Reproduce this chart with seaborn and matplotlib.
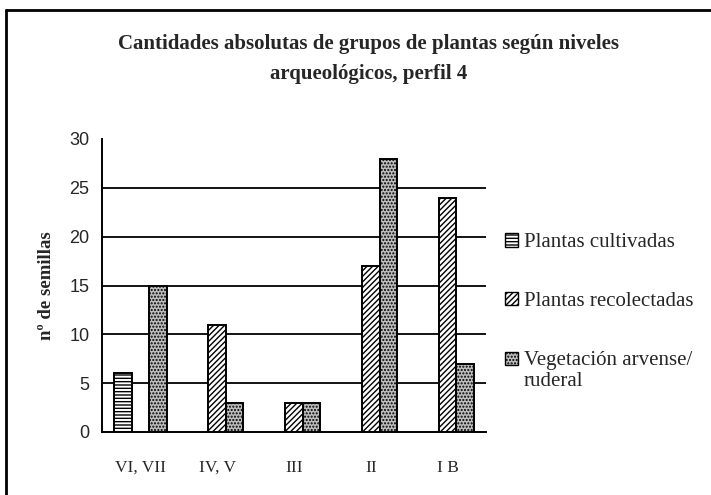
import matplotlib
matplotlib.use("Agg")
import matplotlib.pyplot as plt
import seaborn as sns
import pandas as pd
from matplotlib.lines import Line2D
from matplotlib.patches import Patch

categories = ["VI, VII", "IV, V", "III", "II", "I B"]
series = ["Plantas cultivadas", "Plantas recolectadas", "Vegetación arvense/\nruderal"]
cultivadas = [6, 0, 0, 0, 0]
recolectadas = [0, 11, 3, 17, 24]
vegetacion = [15, 3, 3, 28, 7]
yticks = [0, 5, 10, 15, 20, 25, 30]

rows = []
for name, vals in zip(series, [cultivadas, recolectadas, vegetacion]):
    for c, v in zip(categories, vals):
        rows.append({"nivel": c, "grupo": name, "n": v})
df = pd.DataFrame(rows)

sns.set_style("white")
plt.rcParams["hatch.linewidth"] = 1.0

fig = plt.figure(figsize=(7.11, 4.95), dpi=100)
ax = fig.add_axes([102/711, 1-432/495, (486-102)/711, (432-139)/495])

faces = ["white", "white", "#bdbdbd"]
hatches = ["-----", "//////", "....."]
palette = dict(zip(series, faces))
sns.barplot(data=df, x="nivel", y="n", hue="grupo", order=categories,
            hue_order=series, palette=palette, width=0.68, gap=0,
            edgecolor="black", linewidth=1.4, saturation=1, legend=False, ax=ax)
for cont, h in zip(ax.containers, hatches):
    for bar in cont:
        bar.set_hatch(h)
        if bar.get_height() == 0:
            bar.set_visible(False)

ax.set_ylim(0, 30)
ax.set_xlim(-0.5, len(categories)-0.5)
ax.set_yticks(yticks)
ax.set_yticklabels([str(t) for t in yticks], fontsize=13, family="Liberation Sans")
ax.set_xticks(range(len(categories)))
ax.set_xticklabels(categories, fontsize=12.5, family="Liberation Serif")
ax.set_xticks([i - 0.5 for i in range(len(categories)+1)], minor=True)
ax.tick_params(axis="x", which="major", length=0, pad=20)
ax.tick_params(axis="x", which="minor", length=5, width=1.3, direction="out", color="black")
ax.tick_params(axis="y", length=5, width=1.3, direction="out", color="black", pad=4)

ax.grid(axis="y", color="black", linewidth=1.3)
ax.set_axisbelow(True)
gl = ax.get_ygridlines()
gl[0].set_visible(False)
gl[-1].set_visible(False)

for s in ["top", "right"]:
    ax.spines[s].set_visible(False)
for s in ["left", "bottom"]:
    ax.spines[s].set_color("black")
    ax.spines[s].set_linewidth(1.4)

ax.set_xlabel("")
ax.set_ylabel("nº de semillas", fontsize=13.5, fontweight="bold", family="Liberation Serif", labelpad=10)

handles = [Patch(facecolor=f, edgecolor="black", hatch=h, linewidth=1.0) for f, h in zip(faces, hatches)]
leg = fig.legend(handles, series, loc="upper left", bbox_to_anchor=(497/711, 1-225/495),
                 frameon=False, prop={"family": "Liberation Serif", "size": 15},
                 handlelength=0.6, handleheight=0.6, handletextpad=0.3,
                 labelspacing=1.9, borderaxespad=0)
hb = leg.legend_handles[2]
hb.set_y(hb.get_y() + 8.5)

fig.text(369/711, 1-44/495, "Cantidades absolutas de grupos de plantas según niveles",
         ha="center", va="center", fontsize=15, fontweight="bold", family="Liberation Serif")
fig.text(369/711, 1-74/495, "arqueológicos, perfil 4",
         ha="center", va="center", fontsize=15, fontweight="bold", family="Liberation Serif")

fig.add_artist(Line2D([6/711, 6/711], [0, 1-9.5/495], color="black", linewidth=2, transform=fig.transFigure))
fig.add_artist(Line2D([6/711, 1], [1-9.5/495, 1-9.5/495], color="black", linewidth=2, transform=fig.transFigure))

fig.savefig("out.png", dpi=100)
